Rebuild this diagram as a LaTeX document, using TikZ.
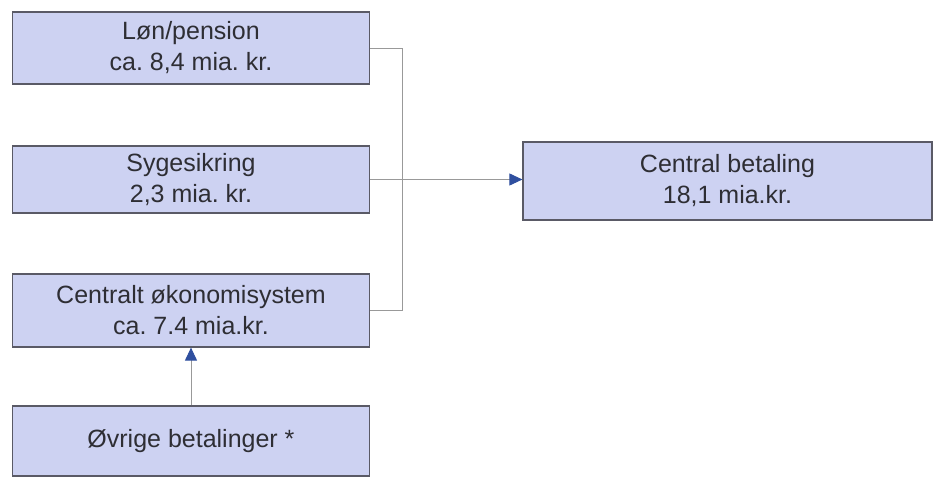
\documentclass[tikz,border=0pt]{standalone}
\usepackage{fontspec}
\setmainfont{Liberation Sans}
\usetikzlibrary{arrows.meta}
\definecolor{boxfill}{HTML}{CDD2F2}
\definecolor{boxline}{HTML}{5A5A66}
\definecolor{tipblue}{HTML}{2F4F9F}
\definecolor{textgray}{HTML}{2E2E34}
\frenchspacing

\begin{document}
\begin{tikzpicture}[
    x = 1pt,
    y = -1pt,
    >={Triangle[length=13pt,width=12pt,color=tipblue]},
    post/.style = {
      draw,
      fill = boxfill,
      draw = boxline,
      line width = 1.2pt,
      rectangle,
      align = center,
      text = textgray,
      font = \fontsize{25}{31}\selectfont,
      minimum width = 357pt,
      inner sep = 0pt
    },
    link/.style = {
      draw = gray!80,
      line width = 1pt
    }
  ]
  \useasboundingbox (0,0) rectangle (935,477);

  \node[post, minimum height = 72pt] (lon) at (191,48) {Løn/pension\\ca. 8,4 mia. kr.};
  \node[post, minimum height = 67pt] (syg) at (191,179.5) {Sygesikring\\2,3 mia. kr.};
  \node[post, minimum height = 73pt] (cok) at (191,310.5) {Centralt økonomisystem\\ca. 7.4 mia.kr.};
  \node[post, minimum height = 70pt] (ovr) at (191,441) {Øvrige betalinger *};

  \node[post, minimum width = 409pt, minimum height = 78pt] (cb) at (727.5,181) {Central betaling\\18,1 mia.kr.};

  \coordinate (top) at (402,48);
  \coordinate (bot) at (402,310.5);

  \draw[link] (lon.east) -- (top) -- (bot) -- (cok.east);
  \draw[link,->] (syg.east) -- (syg.east -| cb.west);
  \draw[link,->] (ovr.north) -- (cok.south);

\end{tikzpicture}
\end{document}
